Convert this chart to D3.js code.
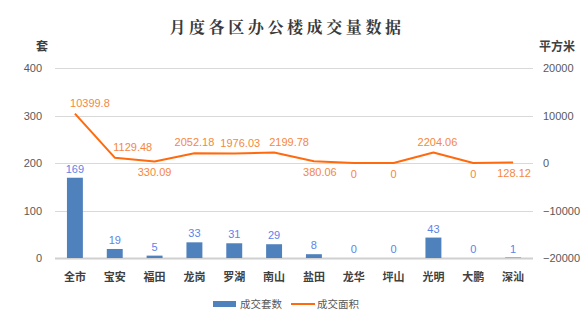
<!DOCTYPE html>
<html>
<head>
<meta charset="utf-8">
<script src="https://cdn.jsdelivr.net/npm/d3@7"></script>
<style>
  body { margin: 0; background: #fff; }
  svg { display: block; }
</style>
</head>
<body>
<div class="chart"></div>
<script>
// chart data
const districts = ["全市", "宝安", "福田", "龙岗", "罗湖", "南山", "盐田", "龙华", "坪山", "光明", "大鹏", "深汕"];
const dealCounts = [169, 19, 5, 33, 31, 29, 8, 0, 0, 43, 0, 1];
const dealAreas = [10399.8, 1129.48, 330.09, 2052.18, 1976.03, 2199.78, 380.06, 0, 0, 2204.06, 0, 128.12];
const areaLabels = ["10399.8", "1129.48", "330.09", "2052.18", "1976.03", "2199.78", "380.06", "0", "0", "2204.06", "0", "128.12"];
const leftTicks = [0, 100, 200, 300, 400];
const rightTicks = [-20000, -10000, 0, 10000, 20000];

// label placement for the line values (above / below the point, horizontal nudge)
const areaLabelSide = ["up", "up", "down", "up", "up", "up", "down", "down", "down", "up", "down", "down"];
const areaLabelDx = [15, 18, 0, 0, 6, 15, 6, 0, 0, 4, 0, 1];

const width = 588, height = 317;
const margin = { left: 55, right: 55, top: 68, bottom: 59 };

const svg = d3.select(".chart").append("svg")
  .attr("width", width)
  .attr("height", height);

const numFont = "'Liberation Sans', Arial, sans-serif";
const cjkFont = "'Noto Sans CJK SC', 'Noto Sans', sans-serif";

// Scales
const x = d3.scaleBand()
  .domain(districts)
  .range([margin.left, width - margin.right])
  .paddingInner(0.6)
  .paddingOuter(0.3);

const yLeft = d3.scaleLinear()
  .domain([0, 400])
  .range([height - margin.bottom, margin.top]);

const yRight = d3.scaleLinear()
  .domain([-20000, 20000])
  .range([height - margin.bottom, margin.top]);

// Title
svg.append("text")
  .attr("x", 287)
  .attr("y", 33)
  .attr("text-anchor", "middle")
  .style("font-family", "'Noto Serif CJK SC', " + cjkFont)
  .style("font-weight", "bold")
  .style("font-size", "16px")
  .style("letter-spacing", "3.6px")
  .style("fill", "#3a3a3a")
  .text("月度各区办公楼成交量数据");

// Gridlines
svg.append("g")
  .selectAll("line")
  .data(leftTicks)
  .join("line")
  .attr("x1", margin.left)
  .attr("x2", width - margin.right)
  .attr("y1", d => Math.round(yLeft(d)) + 0.5)
  .attr("y2", d => Math.round(yLeft(d)) + 0.5)
  .attr("stroke", d => d === 0 ? "#d0d0d0" : "#d9d9d9")
  .attr("stroke-width", d => d === 0 ? 2 : 1);

// Left axis
const leftAxis = svg.append("g")
  .attr("transform", `translate(${margin.left - 13},0)`)
  .call(d3.axisLeft(yLeft).tickValues(leftTicks).tickSize(0).tickPadding(0));
leftAxis.select(".domain").remove();
leftAxis.selectAll("text")
  .style("font-family", numFont)
  .style("font-size", "11px")
  .style("fill", "#595959");

// Right axis
const rightAxis = svg.append("g")
  .attr("transform", `translate(${width - margin.right + 10},0)`)
  .call(d3.axisRight(yRight).tickValues(rightTicks).tickSize(0).tickPadding(0).tickFormat(d3.format("d")));
rightAxis.select(".domain").remove();
rightAxis.selectAll("text")
  .style("font-family", numFont)
  .style("font-size", "11px")
  .style("fill", "#595959");

// Axis unit titles
svg.append("text")
  .attr("x", 42)
  .attr("y", 51)
  .attr("text-anchor", "middle")
  .style("font-family", cjkFont)
  .style("font-weight", "bold")
  .style("font-size", "12px")
  .style("fill", "#404040")
  .text("套");

svg.append("text")
  .attr("x", 557)
  .attr("y", 51)
  .attr("text-anchor", "middle")
  .style("font-family", cjkFont)
  .style("font-weight", "bold")
  .style("font-size", "12px")
  .style("fill", "#404040")
  .text("平方米");

// Bars
svg.append("g")
  .selectAll("rect")
  .data(districts)
  .join("rect")
  .attr("x", d => x(d))
  .attr("y", (d, i) => yLeft(dealCounts[i]))
  .attr("width", x.bandwidth())
  .attr("height", (d, i) => yLeft(0) - yLeft(dealCounts[i]))
  .attr("fill", "#4f81bd");

// Bar labels
svg.append("g")
  .selectAll("text")
  .data(districts)
  .join("text")
  .attr("x", d => x(d) + x.bandwidth() / 2)
  .attr("y", (d, i) => yLeft(dealCounts[i]) - 5)
  .attr("text-anchor", "middle")
  .style("font-family", numFont)
  .style("font-size", "11px")
  .style("fill", "#5b84e8")
  .text((d, i) => dealCounts[i]);

// Line
const line = d3.line()
  .x((d, i) => x(districts[i]) + x.bandwidth() / 2)
  .y(d => yRight(d));

svg.append("path")
  .datum(dealAreas)
  .attr("d", line)
  .attr("fill", "none")
  .attr("stroke", "#ff6a0e")
  .attr("stroke-width", 2)
  .attr("stroke-linejoin", "round");

// Line labels
svg.append("g")
  .selectAll("text")
  .data(dealAreas)
  .join("text")
  .attr("x", (d, i) => x(districts[i]) + x.bandwidth() / 2 + areaLabelDx[i])
  .attr("y", (d, i) => yRight(d) + (areaLabelSide[i] === "up" ? -7 : 15))
  .attr("text-anchor", "middle")
  .style("font-family", numFont)
  .style("font-size", "11px")
  .style("fill", "#f5873f")
  .text((d, i) => areaLabels[i]);

// X category labels
svg.append("g")
  .selectAll("text")
  .data(districts)
  .join("text")
  .attr("x", d => x(d) + x.bandwidth() / 2)
  .attr("y", 281)
  .attr("text-anchor", "middle")
  .style("font-family", cjkFont)
  .style("font-weight", "bold")
  .style("font-size", "11px")
  .style("fill", "#404040")
  .text(d => d);

// Legend
const legend = svg.append("g");
legend.append("rect")
  .attr("x", 213).attr("y", 301)
  .attr("width", 23).attr("height", 6)
  .attr("fill", "#4f81bd");
legend.append("text")
  .attr("x", 240).attr("y", 308)
  .style("font-family", cjkFont)
  .style("font-size", "10.5px")
  .style("fill", "#595959")
  .text("成交套数");
legend.append("line")
  .attr("x1", 291).attr("x2", 315)
  .attr("y1", 304).attr("y2", 304)
  .attr("stroke", "#ff6a0e")
  .attr("stroke-width", 2);
legend.append("text")
  .attr("x", 317).attr("y", 308)
  .style("font-family", cjkFont)
  .style("font-size", "10.5px")
  .style("fill", "#595959")
  .text("成交面积");
</script>
</body>
</html>
